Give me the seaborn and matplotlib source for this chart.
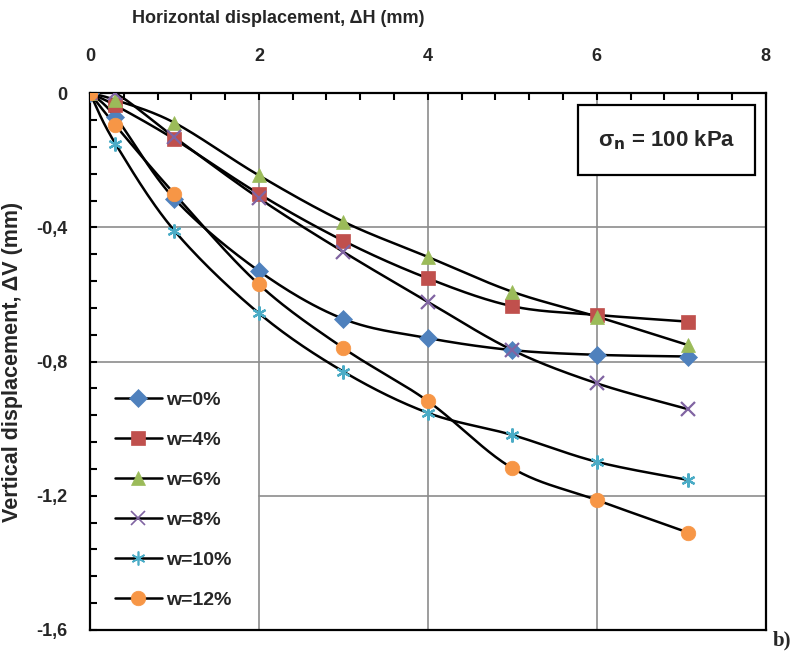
import numpy as np
import matplotlib
matplotlib.use("Agg")
import matplotlib.pyplot as plt
import seaborn as sns
from matplotlib.lines import Line2D
from matplotlib.patches import Rectangle
from matplotlib.ticker import MultipleLocator

sns.set_theme(style="white")
plt.rcParams["font.family"] = ["Liberation Sans", "DejaVu Sans"]
plt.rcParams["font.weight"] = "bold"

# data
dh = [0, 0.3, 1, 2, 3, 4, 5, 6, 7.08]
dv_w0 = [0, -0.07, -0.315, -0.53, -0.673, -0.73, -0.766, -0.78, -0.785]
dv_w4 = [0, -0.036, -0.137, -0.30, -0.44, -0.552, -0.635, -0.661, -0.681]
dv_w6 = [0, -0.02, -0.088, -0.245, -0.383, -0.488, -0.592, -0.666, -0.751]
dv_w8 = [0, 0.0, -0.131, -0.313, -0.473, -0.622, -0.766, -0.865, -0.942]
dv_w10 = [0, -0.15, -0.41, -0.656, -0.83, -0.953, -1.019, -1.099, -1.153]
dv_w12 = [0, -0.095, -0.30, -0.57, -0.76, -0.918, -1.118, -1.213, -1.31]
labels = ["w=0%", "w=4%", "w=6%", "w=8%", "w=10%", "w=12%"]

xticks = [0, 2, 4, 6, 8]
xtick_labels = ["0", "2", "4", "6", "8"]
yticks = [0, -0.4, -0.8, -1.2, -1.6]
ytick_labels = ["0", "-0,4", "-0,8", "-1,2", "-1,6"]

series = [dv_w0, dv_w4, dv_w6, dv_w8, dv_w10, dv_w12]
colors = ["#4F81BD", "#C0504D", "#9BBB59", "#8064A2", "#4BACC6", "#F79646"]
markers = ["D", "s", "^", "x", (6, 2, 0), "o"]
msizes = [9, 10, 10, 10, 10, 10.5]


def smooth(xs, ys, n=25):
    # Excel-like smoothed line (Catmull-Rom through the points)
    p = np.column_stack([xs, ys]).astype(float)
    p = np.vstack([p[0], p, p[-1]])
    out = []
    t = np.linspace(0, 1, n, endpoint=False)[:, None]
    for i in range(1, len(p) - 2):
        p0, p1, p2, p3 = p[i - 1], p[i], p[i + 1], p[i + 2]
        seg = 0.5 * ((2 * p1) + (-p0 + p2) * t
                     + (2 * p0 - 5 * p1 + 4 * p2 - p3) * t ** 2
                     + (-p0 + 3 * p1 - 3 * p2 + p3) * t ** 3)
        out.append(seg)
    out.append(p[-1][None, :])
    out = np.vstack(out)
    return out[:, 0], out[:, 1]


fig = plt.figure(figsize=(7.96, 6.52), dpi=100)
ax = fig.add_axes([0.113, 0.034, 0.849, 0.823])

grid_c = "#8c8c8c"
for gx in [2, 4, 6]:
    ax.axvline(gx, color=grid_c, lw=1.2, zorder=0)
ax.axhline(-0.4, color=grid_c, lw=1.2, zorder=0)
ax.axhline(-0.8, color=grid_c, lw=1.2, zorder=0)
ax.axhline(-1.2, xmin=0.25, color=grid_c, lw=1.2, zorder=0)

handles = []
for ys, lab, c, m, ms in zip(series, labels, colors, markers, msizes):
    sx, sy = smooth(dh, ys)
    sns.lineplot(x=sx, y=sy, sort=False, estimator=None, color="black",
                 lw=1.8, ax=ax, zorder=2)
    filled = m not in ("x",) and not isinstance(m, tuple)
    sns.lineplot(x=dh, y=ys, estimator=None, linestyle="", marker=m,
                 markersize=ms, markerfacecolor=c, markeredgecolor=c,
                 markeredgewidth=0.5 if filled else 1.6, ax=ax, zorder=3)
    handles.append(Line2D([], [], color="black", lw=1.8, marker=m,
                          markersize=ms, markerfacecolor=c, markeredgecolor=c,
                          markeredgewidth=0.5 if filled else 1.2, label=lab))

ax.set_xlim(0, 8)
ax.set_ylim(-1.6, 0)
ax.xaxis.tick_top()
ax.xaxis.set_label_position("top")
ax.set_xticks(xticks)
ax.set_xticklabels(xtick_labels)
ax.set_yticks(yticks)
ax.set_yticklabels(ytick_labels)
ax.xaxis.set_minor_locator(MultipleLocator(0.4))
ax.yaxis.set_minor_locator(MultipleLocator(0.08))
ax.tick_params(axis="x", which="both", direction="in", length=5, width=1.5,
               color="black", top=True, bottom=False, labelsize=13, pad=20)
ax.tick_params(axis="y", which="both", direction="in", length=5, width=1.5,
               color="black", left=True, labelsize=13, pad=16)
for lbl in ax.get_xticklabels() + ax.get_yticklabels():
    lbl.set_fontweight("bold")
for sp in ax.spines.values():
    sp.set_visible(True)
    sp.set_color("black")
    sp.set_linewidth(1.6)

ax.set_xlabel("Horizontal displacement, ΔH (mm)", fontsize=13, fontweight="bold")
ax.xaxis.set_label_coords(0.278, 1.13)
ax.set_ylabel("Vertical displacement, ΔV (mm)", fontsize=15.5, fontweight="bold")
ax.yaxis.set_label_coords(-0.099, 0.5)

leg = ax.legend(handles=handles, loc="upper left", bbox_to_anchor=(0.037, 0.445),
                frameon=False, fontsize=14, handlelength=2.4, handletextpad=0.25,
                labelspacing=1.15, borderaxespad=0, borderpad=0)
for t in leg.get_texts():
    t.set_fontweight("bold")

ax.add_patch(Rectangle((0.722, 0.847), 0.262, 0.131, transform=ax.transAxes,
                       facecolor="white", edgecolor="black", lw=1.6, zorder=4))
ax.text(0.853, 0.912, r"σ$_\mathbf{n}$ = 100 kPa", transform=ax.transAxes,
        ha="center", va="center", fontsize=16, fontweight="bold", zorder=5)

fig.text(0.971, 0.018, "b)", ha="left", va="center", fontsize=15,
         family=["Liberation Serif", "DejaVu Serif"])

fig.savefig("out.png", dpi=100)
